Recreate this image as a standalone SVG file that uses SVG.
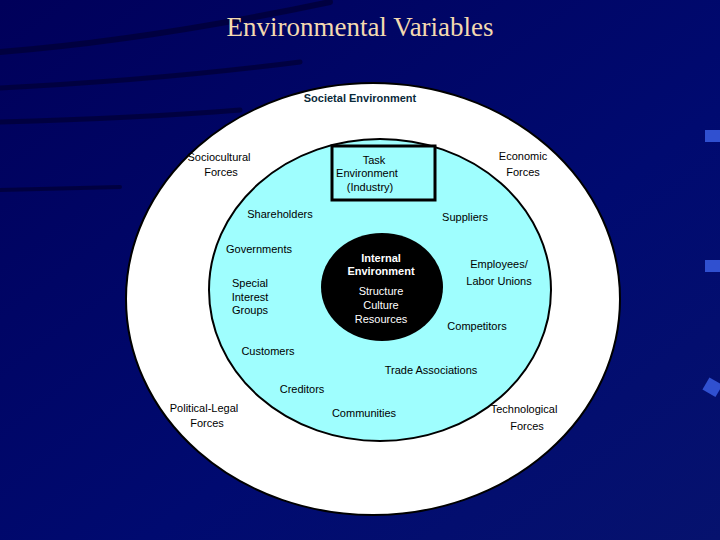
<svg xmlns="http://www.w3.org/2000/svg" width="720" height="540" viewBox="0 0 720 540">
<defs>
<linearGradient id="bg" x1="0" y1="0" x2="1" y2="1">
<stop offset="0" stop-color="#00005a"/>
<stop offset="0.6" stop-color="#000a70"/>
<stop offset="1" stop-color="#06126e"/>
</linearGradient>
<style>
.t{font-family:"Liberation Sans",Arial,sans-serif;font-size:11px;fill:#000;text-anchor:middle}
.w{font-family:"Liberation Sans",Arial,sans-serif;font-size:11px;fill:#fff;text-anchor:middle}
.streak{fill:none;stroke:#000038;stroke-linecap:round;opacity:0.8}
</style>
</defs>
<rect width="720" height="540" fill="url(#bg)"/>
<path class="streak" d="M0 52 Q150 40 330 2" stroke-width="6"/>
<path class="streak" d="M0 88 Q160 80 300 62" stroke-width="5"/>
<path class="streak" d="M0 122 Q140 118 240 110" stroke-width="5"/>
<path class="streak" d="M0 190 L120 187" stroke-width="4"/>
<rect x="705" y="130" width="15" height="12" fill="#3050d0"/>
<rect x="705" y="260" width="15" height="12" fill="#3050d0"/>
<rect x="705" y="380" width="15" height="14" fill="#3050d0" transform="rotate(30 712 387)"/>
<text x="360" y="36" font-family="Liberation Serif,Times New Roman,serif" font-size="27" fill="#f3d9b0" text-anchor="middle">Environmental Variables</text>
<g id="societal">
<ellipse cx="373" cy="299" rx="247" ry="216" fill="#fff" stroke="#000" stroke-width="2"/>
<text x="360" y="102" class="t" style="font-weight:bold;fill:#0a2a3a" font-size="11">Societal Environment</text>
<text x="219" y="161" class="t">Sociocultural</text><text x="221" y="176" class="t">Forces</text>
<text x="523" y="160" class="t">Economic</text><text x="523" y="176" class="t">Forces</text>
<text x="204" y="412" class="t">Political-Legal</text><text x="207" y="427" class="t">Forces</text>
<text x="524" y="413" class="t">Technological</text><text x="527" y="430" class="t">Forces</text>
</g>
<g id="task">
<ellipse cx="380" cy="290" rx="171" ry="151" fill="#9ffefe" stroke="#000" stroke-width="2"/>
<rect x="332" y="146" width="103" height="54" fill="#9ffefe" stroke="#000" stroke-width="3"/>
<text x="374" y="164" class="t">Task</text><text x="367" y="177" class="t">Environment</text><text x="370" y="191" class="t">(Industry)</text>
<text x="280" y="218" class="t">Shareholders</text>
<text x="465" y="221" class="t">Suppliers</text>
<text x="259" y="253" class="t">Governments</text>
<text x="250" y="287" class="t">Special</text><text x="250" y="301" class="t">Interest</text><text x="250" y="314" class="t">Groups</text>
<text x="499" y="268" class="t">Employees/</text><text x="499" y="285" class="t">Labor Unions</text>
<text x="477" y="330" class="t">Competitors</text>
<text x="268" y="355" class="t">Customers</text>
<text x="431" y="374" class="t">Trade Associations</text>
<text x="302" y="393" class="t">Creditors</text>
<text x="364" y="417" class="t">Communities</text>
</g>
<g id="internal">
<ellipse cx="382" cy="287" rx="61" ry="54" fill="#000"/>
<text x="381" y="262" class="w" font-weight="bold">Internal</text>
<text x="381" y="275" class="w" font-weight="bold">Environment</text>
<text x="381" y="295" class="w">Structure</text>
<text x="381" y="309" class="w">Culture</text>
<text x="381" y="323" class="w">Resources</text>
</g>
<g id="connectors"/>
</svg>
